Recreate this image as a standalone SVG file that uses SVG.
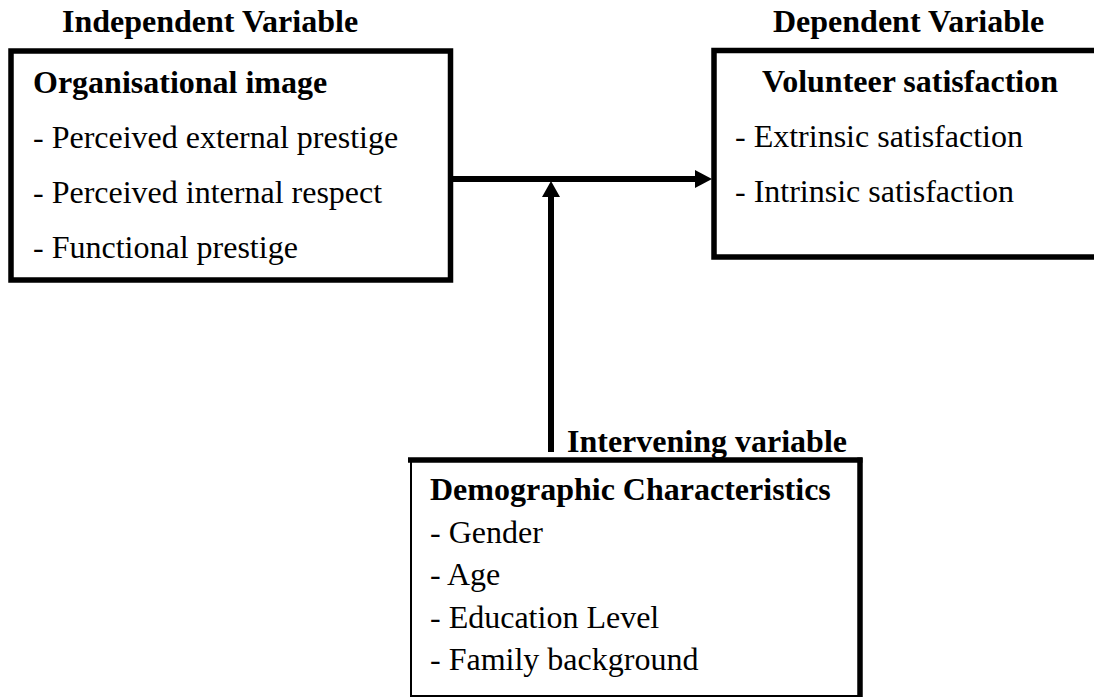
<svg xmlns="http://www.w3.org/2000/svg" width="1094" height="698" viewBox="0 0 1094 698">
<style>
text{font-family:"Liberation Serif","Times New Roman",serif;font-size:32px;fill:#000}
.b{font-weight:bold}
.box{fill:#fff;stroke:#000;stroke-width:5.5}
.edge{stroke:#000;stroke-width:6;fill:none}
.thin{fill:#fff;stroke:#000;stroke-width:2}
</style>
<rect width="1094" height="698" fill="#fff"/>
<g id="connectors">
<line class="edge" x1="453" y1="179" x2="697" y2="179"/>
<polygon points="695,170 712,179 695,188" fill="#000"/>
<line class="edge" x1="551" y1="452" x2="551" y2="195"/>
<polygon points="542,197 551,181 560,197" fill="#000"/>
</g>
<g id="independent">
<text class="b" x="62" y="32">Independent Variable</text>
<rect class="box" x="11" y="51" width="439.5" height="229"/>
<text class="b" x="33" y="93">Organisational image</text>
<text x="33" y="148">- Perceived external prestige</text>
<text x="33" y="203">- Perceived internal respect</text>
<text x="33" y="258">- Functional prestige</text>
</g>
<g id="dependent">
<text class="b" x="773" y="32">Dependent Variable</text>
<rect class="box" x="714" y="50.5" width="420" height="206.5"/>
<text class="b" x="762" y="92">Volunteer satisfaction</text>
<text x="735" y="147">- Extrinsic satisfaction</text>
<text x="735" y="202">- Intrinsic satisfaction</text>
</g>
<g id="intervening">
<text class="b" x="567" y="452">Intervening variable</text>
<rect class="thin" x="411" y="460" width="449" height="236"/>
<line x1="408" y1="460" x2="862.5" y2="460" stroke="#000" stroke-width="5.5"/>
<line x1="860" y1="457.5" x2="860" y2="697" stroke="#000" stroke-width="5.5"/>
<text class="b" x="430" y="500">Demographic Characteristics</text>
<text x="430" y="543">- Gender</text>
<text x="430" y="585">- Age</text>
<text x="430" y="628">- Education Level</text>
<text x="430" y="670">- Family background</text>
</g>
</svg>
